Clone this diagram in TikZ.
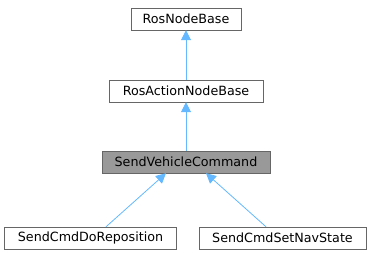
\documentclass[tikz,border=0pt]{standalone}
\usepackage{fontspec}
\setmainfont{DejaVu Sans}
\usetikzlibrary{arrows.meta}
\definecolor{edgeblue}{HTML}{63B8FF}
\definecolor{boxline}{HTML}{666666}
\definecolor{boxfill}{HTML}{999999}
\tikzset{cls/.style={draw=boxline, fill=white, minimum height=22pt, inner xsep=0pt, font=\fontsize{12.7}{14}\selectfont},
inh/.style={{Triangle[length=10pt,width=10pt]}-, edgeblue, line width=0.8pt}}
\begin{document}
\begin{tikzpicture}[x=1pt, y=-1pt]
\useasboundingbox (0,0) rectangle (371,256);
\node[cls, minimum width=110pt] (base) at (186,19) {RosNodeBase};
\node[cls, minimum width=154pt] (action) at (186,91) {RosActionNodeBase};
\node[cls, fill=boxfill, minimum width=168pt] (cmd) at (186,162) {SendVehicleCommand};
\node[cls, minimum width=172pt] (repo) at (90.5,238) {SendCmdDoReposition};
\node[cls, minimum width=167pt] (nav) at (282.5,238) {SendCmdSetNavState};
\draw[inh] (base) -- (action);
\draw[inh] (action) -- (cmd);
\draw[inh] (cmd.south -| 166,0) -- (repo.north -| 106,0);
\draw[inh] (cmd.south -| 206,0) -- (nav.north -| 266,0);
\end{tikzpicture}
\end{document}
